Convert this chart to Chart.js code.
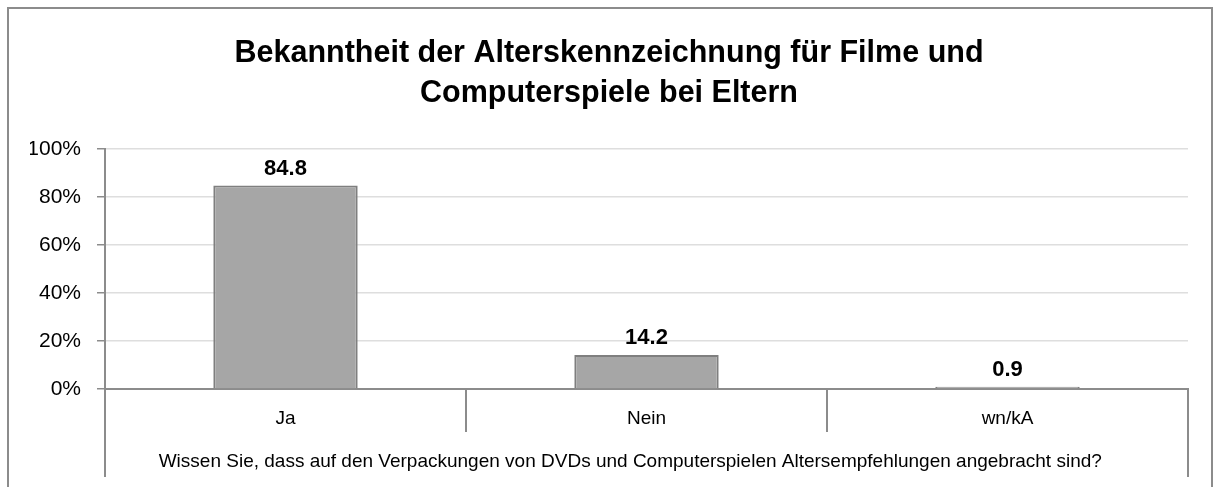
<!DOCTYPE html>
<html>
<head>
  <meta charset="utf-8">
  <title>Bekanntheit der Alterskennzeichnung</title>
  <script src="https://cdn.jsdelivr.net/npm/chart.js"></script>
  <style>
    body { margin: 0; background: #fff; }
    #frame { position: absolute; left: 7px; top: 7px; width: 1202px; height: 520px; border: 2px solid #8c8c8c; }
    #wrap { position: absolute; left: 0; top: 0; width: 1216px; height: 487px; }
  </style>
</head>
<body>
  <div id="frame"></div>
  <div id="wrap"><canvas id="chart"></canvas></div>

  <script>
const categories = ['Ja', 'Nein', 'wn/kA'];
const values = [84.8, 14.2, 0.9];
const yTicks = [0, 20, 40, 60, 80, 100];
const titleLines = ['Bekanntheit der Alterskennzeichnung für Filme und', 'Computerspiele bei Eltern'];
const question = 'Wissen Sie, dass auf den Verpackungen von DVDs und Computerspielen Altersempfehlungen angebracht sind?';

const font = "'Liberation Sans', Arial, sans-serif";

// value labels above bars + question label and long outer separators
const extras = {
  id: 'extras',
  afterDatasetsDraw(chart) {
    const ctx = chart.ctx;
    const meta = chart.getDatasetMeta(0);
    ctx.save();
    ctx.fillStyle = '#000';
    ctx.font = 'bold 22px ' + font;
    ctx.textAlign = 'center';
    ctx.textBaseline = 'bottom';
    meta.data.forEach((bar, i) => {
      ctx.fillText(values[i].toFixed(1), bar.x, bar.y - 6);
    });
    ctx.restore();
  },
  afterDraw(chart) {
    const ctx = chart.ctx;
    const a = chart.chartArea;
    ctx.save();
    ctx.strokeStyle = '#8c8c8c';
    ctx.lineWidth = 2;
    [a.left, a.right].forEach(x => {
      ctx.beginPath();
      ctx.moveTo(x, a.bottom);
      ctx.lineTo(x, a.bottom + 88);
      ctx.stroke();
    });
    ctx.fillStyle = '#000';
    ctx.font = '19px ' + font;
    ctx.textAlign = 'center';
    ctx.textBaseline = 'middle';
    ctx.fillText(question, a.left + (a.right - a.left) * 0.485, a.bottom + 73);
    ctx.restore();
  }
};

const ctx = document.getElementById('chart').getContext('2d');

new Chart(ctx, {
  type: 'bar',
  data: {
    labels: categories,
    datasets: [{
      data: values,
      backgroundColor: '#a6a6a6',
      borderColor: '#7f7f7f',
      borderWidth: 2,
      barPercentage: 0.4,
      categoryPercentage: 1
    }]
  },
  options: {
    responsive: true,
    maintainAspectRatio: false,
    animation: false,
    layout: { padding: { left: 30, right: 28, top: 0, bottom: 0 } },
    plugins: {
      legend: { display: false },
      tooltip: { enabled: false },
      title: {
        display: true,
        text: titleLines,
        color: '#000',
        font: { family: font, size: 30.5, weight: 'bold', lineHeight: 1.33 },
        padding: { top: 33, bottom: 35 }
      }
    },
    scales: {
      x: {
        grid: {
          offset: true,
          drawOnChartArea: false,
          tickLength: 43,
          tickColor: '#8c8c8c',
          lineWidth: 2
        },
        border: { color: '#8c8c8c', width: 2 },
        ticks: { color: '#000', font: { family: font, size: 19 }, padding: -25 },
        afterFit(scale) { scale.height = 98; }
      },
      y: {
        min: 0,
        max: 100,
        afterBuildTicks(scale) { scale.ticks = yTicks.map(v => ({ value: v })); },
        grid: { color: '#dedede', tickColor: '#8c8c8c', tickLength: 8, lineWidth: 1.5 },
        border: { color: '#8c8c8c', width: 2 },
        ticks: {
          color: '#000',
          font: { family: font, size: 21 },
          padding: 16,
          callback: v => v + '%'
        },
        afterFit(scale) { scale.width = 75; }
      }
    }
  },
  plugins: [extras]
});
  </script>
</body>
</html>
